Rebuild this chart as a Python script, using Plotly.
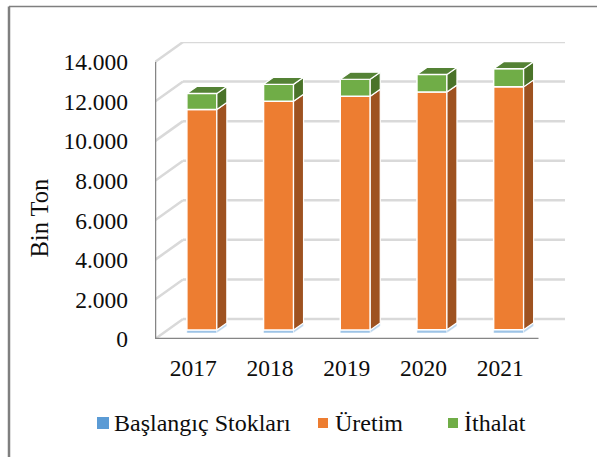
import plotly.graph_objects as go

years = ["2017", "2018", "2019", "2020", "2021"]
stocks = [150, 150, 155, 160, 170]
production = [11150, 11560, 11810, 12015, 12270]
imports = [810, 860, 860, 895, 920]
y_ticks = [0, 2000, 4000, 6000, 8000, 10000, 12000, 14000]

SERIES = [
    ("Başlangıç Stokları", stocks, "#9dc3e6", "#bdd7ee", "#9dbfe0", "#5b9bd5"),
    ("Üretim", production, "#ed7d31", "#9e5220", "#c4652a", "#ed7d31"),
    ("İthalat", imports, "#70ad47", "#4a7329", "#548235", "#70ad47"),
]

# plot frame in window pixels
L, R, T, B = 155, 565, 42, 339
W, H = 597, 457
PX_X = 76.7            # pixels per category
PX_Y = 277 / 14000     # pixels per unit
dx = lambda px: px / PX_X
dy = lambda px: px / PX_Y
xs = list(range(len(years)))

fig = go.Figure()

shapes = []
grid = dict(color="#d9d9d9", width=2.5)
x0, xa = -0.5, -0.5 + dx(383.5)
xw = x0 + dx(28)
xe = x0 + dx(R - L)
dw = dy(20)
for t in y_ticks:
    shapes.append(dict(type="line", xref="x", yref="y", x0=x0, x1=xw, y0=t, y1=t + dw,
                       line=grid, layer="below"))
    shapes.append(dict(type="line", xref="x", yref="y", x0=xw, x1=xe, y0=t + dw, y1=t + dw,
                       line=grid, layer="below"))
axis = dict(color="#858585", width=2.5)
shapes.append(dict(type="line", xref="x", yref="y", x0=x0, x1=x0, y0=0, y1=14000, line=axis, layer="below"))
shapes.append(dict(type="line", xref="x", yref="y", x0=x0, x1=xa, y0=0, y1=0, line=axis, layer="below"))

# window frame (left and top only)
fx = lambda px: (px - L) / (R - L)
fy = lambda px: (B - px) / (B - T)
shapes.append(dict(type="line", xref="paper", yref="paper", x0=fx(9), x1=fx(9), y0=fy(6.5), y1=fy(H),
                   line=dict(color="#7f7f7f", width=2.5)))
shapes.append(dict(type="line", xref="paper", yref="paper", x0=fx(9), x1=fx(W), y0=fy(6.5), y1=fy(6.5),
                   line=dict(color="#7f7f7f", width=1.5)))

# bars: front plane is shifted into the depth of the floor
BW = 30 / PX_X
SX, SY = dx(8.5), dy(6)
DX, DY = dx(10), dy(7)
base = [0] * len(years)
for k, (name, vals, front, side, top, swatch) in enumerate(SERIES):
    outline = 0.5 if k == 0 else 1.5
    fig.add_trace(go.Bar(
        x=[i + SX for i in xs], y=vals, base=[b + SY for b in base], width=BW, name=name,
        marker=dict(color=front, line=dict(color="white", width=outline)), showlegend=False,
    ))
    for i, (b, v) in enumerate(zip(base, vals)):
        xr = i + SX + BW / 2
        xl = i + SX - BW / 2
        y0_, y1_ = b + SY, b + v + SY
        fig.add_trace(go.Scatter(
            x=[xr, xr + DX, xr + DX, xr, xr], y=[y0_, y0_ + DY, y1_ + DY, y1_, y0_],
            mode="lines", fill="toself", fillcolor=side,
            line=dict(color="white", width=0.5 if k == 0 else 1.2),
            hoverinfo="skip", showlegend=False,
        ))
        if k == len(SERIES) - 1:
            fig.add_trace(go.Scatter(
                x=[xl, xl + DX, xr + DX, xr, xl], y=[y1_, y1_ + DY, y1_ + DY, y1_, y1_],
                mode="lines", fill="toself", fillcolor=top, line=dict(color="white", width=1.2),
                hoverinfo="skip", showlegend=False,
            ))
    base = [b + v for b, v in zip(base, vals)]

# legend
FONT = "Liberation Serif"
INK = "#0d0d0d"
annotations = []
legend_pos = [(97, 109, 417, 429, 112), (318, 328, 418, 428, 333), (448, 458, 418, 428, 462)]
for (name, _, _, _, _, swatch), (a, b, c, d, tx) in zip(SERIES, legend_pos):
    shapes.append(dict(type="rect", xref="paper", yref="paper", x0=fx(a), x1=fx(b), y0=fy(d), y1=fy(c),
                       fillcolor=swatch, line=dict(width=0)))
    annotations.append(dict(xref="paper", yref="paper", x=fx(tx), y=fy(423), text=name, showarrow=False,
                            xanchor="left", yanchor="middle",
                            font=dict(family=FONT, size=24, color=INK)))
annotations.append(dict(xref="paper", yref="paper", x=fx(39), y=fy(218.5), text="Bin Ton", showarrow=False,
                        textangle=-90, xanchor="center", yanchor="middle",
                        font=dict(family=FONT, size=24.5, color=INK)))

fig.update_layout(
    width=W, height=H, margin=dict(l=L, r=W - R, t=T, b=H - B, pad=0),
    paper_bgcolor="white", plot_bgcolor="white", barmode="overlay", separators=",.",
    showlegend=False, shapes=shapes, annotations=annotations,
    font=dict(family=FONT, color=INK),
    xaxis=dict(range=[x0, xe], tickmode="array", tickvals=xs, ticktext=years, showgrid=False,
               zeroline=False, showline=False, ticks="", ticklabelstandoff=12,
               tickfont=dict(size=23.5, family=FONT, color=INK)),
    yaxis=dict(range=[0, dy(B - T)], tickmode="array", tickvals=y_ticks, tickformat=",d", showgrid=False,
               zeroline=False, showline=False, ticks="", ticklabelstandoff=26,
               tickfont=dict(size=23.5, family=FONT, color=INK)),
)

fig.write_html("out.html", config=dict(displayModeBar=False),
               post_script="document.body.style.margin='0';")
